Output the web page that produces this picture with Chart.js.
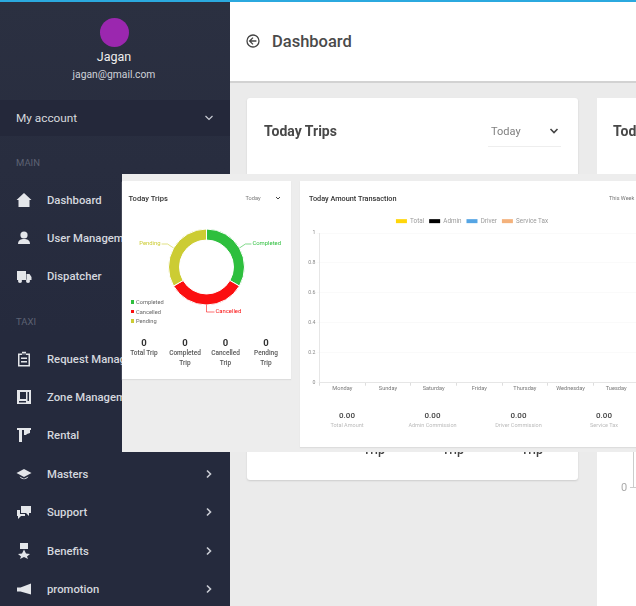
<!DOCTYPE html>
<html>
<head>
<meta charset="utf-8">
<title>Dashboard</title>
<script src="https://cdn.jsdelivr.net/npm/chart.js@4"></script>
<style>
html, body { margin: 0; padding: 0; width: 636px; height: 606px; overflow: hidden; background: #ebebeb; font-family: Roboto, sans-serif; }
#page { position: absolute; left: 0; top: 0; width: 636px; height: 606px; overflow: hidden; filter: blur(0.5px); }
.box { position: absolute; }
.t { position: absolute; white-space: nowrap; transform: translateY(-50%); }
.c { position: absolute; text-align: center; transform: translate(-50%, -50%); white-space: nowrap; }
.nav { left: 47px; font-size: 11.3px; font-weight: 500; color: #d4d7de; }
.sec { left: 16px; font-size: 9.5px; color: #5d6273; }
.ico { position: absolute; left: 16px; width: 16px; height: 16px; fill: #e4e6ea; }
.chev { position: absolute; fill: none; stroke: #c9ccd4; stroke-width: 1.6; }
.lbl { font-size: 6.5px; color: #555; line-height: 9.6px; font-weight: 500; }
.sub { font-size: 5.5px; color: #bbb; }
.num { font-size: 9.5px; color: #333; font-weight: 700; }
canvas { position: absolute; display: block; }
</style>
</head>
<body>
<div id="page">
  <!-- header and background cards -->
  <div class="box" style="left:230px;top:0;width:406px;height:81px;background:#fff;border-bottom:2px solid #d2d2d2"></div>
  <svg class="box" style="left:245px;top:33px" width="16" height="16" viewBox="0 0 16 16" fill="none" stroke="#444" stroke-width="1.3"><circle cx="8" cy="8" r="6"/><path d="M8 4.6 4.6 8 8 11.4M4.8 8h6.6"/></svg>
  <div class="t" style="left:272px;top:41px;font-size:16.5px;font-weight:500;color:#4a4a4a">Dashboard</div>

  <div class="box" style="left:247px;top:98px;width:331px;height:382px;background:#fff;border-radius:3px;box-shadow:0 1px 2px #ccc"></div>
  <div class="t" style="left:264px;top:131px;font-size:14px;font-weight:700;color:#484848">Today Trips</div>
  <div class="t" style="left:491px;top:131px;font-size:11px;color:#808080">Today</div>
  <svg class="chev" style="left:549px;top:127px;stroke:#444" width="10" height="8"><path d="M1.5 2 5 5.5 8.5 2"/></svg>
  <div class="box" style="left:488px;top:146px;width:73px;height:1px;background:#eee"></div>
  <div class="c" style="left:374px;top:449px;font-size:12.5px;font-weight:500;color:#444">Trip</div>
  <div class="c" style="left:453px;top:449px;font-size:12.5px;font-weight:500;color:#444">Trip</div>
  <div class="c" style="left:532px;top:449px;font-size:12.5px;font-weight:500;color:#444">Trip</div>

  <div class="box" style="left:597px;top:98px;width:60px;height:508px;background:#fff"></div>
  <div class="t" style="left:613px;top:131px;font-size:14px;font-weight:700;color:#484848">Tod</div>
  <div class="t" style="left:621px;top:487px;font-size:11px;color:#aaa">0</div>
  <div class="box" style="left:633px;top:452px;width:1px;height:36px;background:#ccc"></div>
  <div class="box" style="left:630px;top:487px;width:6px;height:1px;background:#ccc"></div>

  <!-- sidebar -->
  <div class="box" style="left:0;top:0;width:230px;height:606px;background:linear-gradient(#2b3041,#252a3d 55%)"></div>
  <div class="box" style="left:0;top:0;width:636px;height:2px;background:#2ba9df"></div>
  <div class="box" style="left:99.5px;top:18px;width:29px;height:29px;border-radius:50%;background:#9b27af"></div>
  <div class="c" style="left:114px;top:56px;font-size:12.5px;color:#eee">Jagan</div>
  <div class="c" style="left:114px;top:74px;font-size:10.3px;color:#cfd2d9">jagan@gmail.com</div>
  <div class="box" style="left:0;top:100px;width:230px;height:36px;background:#24283a"></div>
  <div class="t" style="left:16px;top:118px;font-size:11.8px;font-weight:400;color:#d6d8dd">My account</div>
  <svg class="chev" style="left:204px;top:114px;stroke-width:1.2" width="10" height="8"><path d="M1.5 2 5 5.5 8.5 2"/></svg>
  <div class="t sec" style="top:162px">MAIN</div>
  <div class="t sec" style="top:321px">TAXI</div>

  <svg class="ico" style="top:192px" viewBox="0 0 16 16"><path d="M8 1 .5 8h2v7h11V8h2z"/></svg>
  <div class="t nav" style="top:200px">Dashboard</div>
  <svg class="ico" style="top:230px" viewBox="0 0 16 16"><circle cx="8" cy="5" r="3.6"/><path d="M2 14c0-4 3-5 6-5s6 1 6 5z"/></svg>
  <div class="t nav" style="top:238px">User Management</div>
  <svg class="ico" style="top:268px" viewBox="0 0 16 16"><path d="M1 3h9v9H1zM10.500 6h3l2 3v3h-5z"/><circle cx="4" cy="13" r="2"/><circle cx="12" cy="13" r="2"/></svg>
  <div class="t nav" style="top:276px">Dispatcher</div>
  <svg class="ico" style="top:351px" viewBox="0 0 16 16"><path d="M2 2.500h12v13H2zM3.500 4v10h9V4zM5 6.500h6V8H5zM5 10h6v1.500H5zM6 .8h4v3H6z" fill-rule="evenodd"/></svg>
  <div class="t nav" style="top:359px">Request Management</div>
  <svg class="ico" style="top:389px" viewBox="0 0 16 16"><path d="M1 1h14v14H1zM4 3v7h6V3zM11.500 3v9h1.500V3zM3 12v1.500h7V12z" fill-rule="evenodd"/></svg>
  <div class="t nav" style="top:397px">Zone Management</div>
  <svg class="ico" style="top:427px" viewBox="0 0 16 16"><path d="M1 1h14v2H1zM3 3h3v12H3zM8 3h6v3l-3 1-1 1H8z"/></svg>
  <div class="t nav" style="top:435px">Rental</div>
  <svg class="ico" style="top:466px" viewBox="0 0 16 16"><path d="M8 3 .5 7 8 11l7.500-4zM3.500 10.500c2 3.500 7 3.500 9 0L8 12.800z"/></svg>
  <div class="t nav" style="top:474px">Masters</div>
  <svg class="ico" style="top:504px" viewBox="0 0 16 16"><path d="M5 2h10v7h-2v3l-3-3H5zM1 6h3v4h5v2H5l-3 3v-3H1z"/></svg>
  <div class="t nav" style="top:512px">Support</div>
  <svg class="ico" style="top:543px" viewBox="0 0 16 16"><path d="M4 0h8v6H4zM8 6.500l2 4 4 .4-3 2.700 1 2.400-4-2-4 2 1-2.400-3-2.700 4-.4z"/></svg>
  <div class="t nav" style="top:551px">Benefits</div>
  <svg class="ico" style="top:581px" viewBox="0 0 16 16"><path d="M1 6.500h3.500L15 2.500v11L4.500 10.500H1z"/></svg>
  <div class="t nav" style="top:589px">promotion</div>
  <svg class="chev" style="left:205px;top:469px" width="8" height="10"><path d="M2 1.500 5.500 5 2 8.500"/></svg>
  <svg class="chev" style="left:205px;top:507px" width="8" height="10"><path d="M2 1.500 5.500 5 2 8.500"/></svg>
  <svg class="chev" style="left:205px;top:546px" width="8" height="10"><path d="M2 1.500 5.500 5 2 8.500"/></svg>
  <svg class="chev" style="left:205px;top:584px" width="8" height="10"><path d="M2 1.500 5.500 5 2 8.500"/></svg>

  <!-- pasted overlay with the two chart cards -->
  <div class="box" style="left:122px;top:174px;width:514px;height:278px;background:#ededed"></div>

  <div class="box" style="left:122px;top:181px;width:169px;height:198px;background:#fff;box-shadow:0 1px 1px #ddd"></div>
  <div class="t" style="left:128.500px;top:198px;font-size:7.600px;font-weight:500;color:#333">Today Trips</div>
  <div class="t" style="left:245.500px;top:198px;font-size:5.600px;color:#777">Today</div>
  <svg class="chev" style="left:275px;top:196px;stroke:#444;stroke-width:1" width="6" height="5"><path d="M1 1 3 3 5 1"/></svg>
  <canvas id="tripsChart" width="169" height="102" style="left:122px;top:216px;width:169px;height:102px"></canvas>
  <div id="tripsLegend"></div>
  <div id="tripsStats"></div>

  <div class="box" style="left:300px;top:181px;width:340px;height:266px;background:#fff;box-shadow:0 1px 1px #ddd"></div>
  <div class="t" style="left:309px;top:198px;font-size:7.300px;font-weight:500;color:#333">Today Amount Transaction</div>
  <div class="t" style="left:609px;top:198px;font-size:5.500px;color:#777">This Week</div>
  <canvas id="amountChart" width="340" height="182" style="left:305px;top:213px;width:340px;height:182px"></canvas>
  <div id="amountStats"></div>
</div>

<script>
// trips doughnut
const tripLabels = ['Completed', 'Cancelled', 'Pending'];
const tripValues = [1, 1, 1];
const tripColors = ['#2ebf3e', '#fb0f10', '#cccc33'];
const tripStatValues = ['0', '0', '0', '0'];
const tripStatLabels = ['Total Trip', 'Completed<br>Trip', 'Cancelled<br>Trip', 'Pending<br>Trip'];

// amount chart
const dayLabels = ['Monday', 'Sunday', 'Saturday', 'Friday', 'Thursday', 'Wednesday', 'Tuesday'];
const totalValues = [0, 0, 0, 0, 0, 0, 0];
const adminValues = [0, 0, 0, 0, 0, 0, 0];
const driverValues = [0, 0, 0, 0, 0, 0, 0];
const serviceTaxValues = [0, 0, 0, 0, 0, 0, 0];
const amountStatValues = ['0.00', '0.00', '0.00', '0.00'];
const amountStatLabels = ['Total Amount', 'Admin Commission', 'Driver Commission', 'Service Tax'];

const statX = [144, 185, 225.5, 266];
const amountStatX = [347, 432.5, 518.5, 604];

document.getElementById('tripsLegend').innerHTML = tripLabels.map(function(label, i) {
    const top = [302, 311.500, 321][i];
    return '<div class="box" style="left:130.700px;top:' + (top - 1.7) + 'px;width:3.400px;height:3.400px;background:' + tripColors[i] + '"></div>' +
        '<div class="t" style="left:136px;top:' + top + 'px;font-size:5.700px;color:#666">' + label + '</div>';
}).join('');

document.getElementById('tripsStats').innerHTML = tripStatLabels.map(function(label, i) {
    return '<div class="c num" style="left:' + statX[i] + 'px;top:342px">' + tripStatValues[i] + '</div>' +
        '<div class="lbl" style="position:absolute;text-align:center;width:44px;left:' + (statX[i] - 22) + 'px;top:349px">' + label + '</div>';
}).join('');

document.getElementById('amountStats').innerHTML = amountStatLabels.map(function(label, i) {
    return '<div class="c" style="left:' + amountStatX[i] + 'px;top:415px;font-size:8px;font-weight:500;color:#444">' + amountStatValues[i] + '</div>' +
        '<div class="c sub" style="left:' + amountStatX[i] + 'px;top:425px">' + label + '</div>';
}).join('');

// leader lines and outside labels for the doughnut
const calloutPlugin = {
    id: 'callouts',
    afterDatasetsDraw: function(chart) {
        const ctx = chart.ctx;
        const arcs = chart.getDatasetMeta(0).data;
        ctx.save();
        ctx.font = '5.9px Roboto';
        ctx.lineWidth = 0.6;
        ctx.textBaseline = 'middle';
        arcs.forEach(function(arc, i) {
            const mid = (arc.startAngle + arc.endAngle) / 2;
            const x = arc.x + Math.cos(mid) * arc.outerRadius;
            const y = arc.y + Math.sin(mid) * arc.outerRadius;
            ctx.strokeStyle = tripColors[i];
            ctx.fillStyle = tripColors[i];
            ctx.beginPath();
            ctx.moveTo(x, y);
            if (Math.abs(Math.cos(mid)) < 0.1) {
                // bottom slice goes down then right
                ctx.lineTo(x, y + 7);
                ctx.lineTo(x + 8, y + 7);
                ctx.stroke();
                ctx.textAlign = 'left';
                ctx.fillText(tripLabels[i], x + 9, y + 7);
            } else {
                const dir = Math.cos(mid) > 0 ? 1 : -1;
                ctx.lineTo(x + dir * 6, y - 4);
                ctx.lineTo(x + dir * 12, y - 4);
                ctx.stroke();
                ctx.textAlign = dir > 0 ? 'left' : 'right';
                ctx.fillText(tripLabels[i], x + dir * 13, y - 4);
            }
        });
        ctx.restore();
    }
};

new Chart(document.getElementById('tripsChart'), {
    type: 'doughnut',
    data: {
        labels: tripLabels,
        datasets: [{
            data: tripValues,
            backgroundColor: tripColors,
            borderColor: '#fff',
            borderWidth: 1
        }]
    },
    options: {
        responsive: false,
        animation: false,
        cutout: '71%',
        layout: { padding: { top: 12.5, bottom: 12.5 } },
        plugins: { legend: { display: false }, tooltip: { enabled: false } }
    },
    plugins: [calloutPlugin]
});

// pulls the plot up a little under the legend
const legendGapPlugin = {
    id: 'legendGap',
    beforeInit: function(chart) {
        const fit = chart.legend.fit;
        chart.legend.fit = function() {
            fit.call(this);
            this.height -= 1.3;
        };
    }
};

new Chart(document.getElementById('amountChart'), {
    type: 'bar',
    data: {
        labels: dayLabels,
        datasets: [
            { label: 'Total', data: totalValues, backgroundColor: '#ffd60a' },
            { label: 'Admin', data: adminValues, backgroundColor: '#000000' },
            { label: 'Driver', data: driverValues, backgroundColor: '#55a5e4' },
            { label: 'Service Tax', data: serviceTaxValues, backgroundColor: '#f4b27c' }
        ]
    },
    options: {
        responsive: false,
        animation: false,
        layout: { padding: { right: 6 } },
        scales: {
            x: {
                grid: { drawOnChartArea: false, color: '#ddd', tickLength: 3 },
                border: { color: '#e6e6e6' },
                ticks: { color: '#777', font: { size: 5.6, family: 'Roboto' }, padding: 0, maxRotation: 0, autoSkip: false },
                afterFit: function(scale) { scale.height = 12.3; }
            },
            y: {
                min: 0,
                max: 1,
                grid: { color: 'rgba(0,0,0,0.02)', tickLength: 3 },
                border: { color: '#e6e6e6' },
                ticks: {
                    color: '#888',
                    font: { size: 5.2, family: 'Roboto' },
                    padding: 1,
                    stepSize: 0.2,
                    callback: function(value) { return String(Number(value.toFixed(1))); }
                },
                afterFit: function(scale) { scale.width = 14.5; }
            }
        },
        plugins: {
            tooltip: { enabled: false },
            legend: {
                labels: {
                    boxWidth: 11,
                    boxHeight: 4,
                    padding: 5,
                    color: '#999',
                    font: { size: 6.3, family: 'Roboto' }
                }
            }
        }
    },
    plugins: [legendGapPlugin]
});
</script>
</body>
</html>
